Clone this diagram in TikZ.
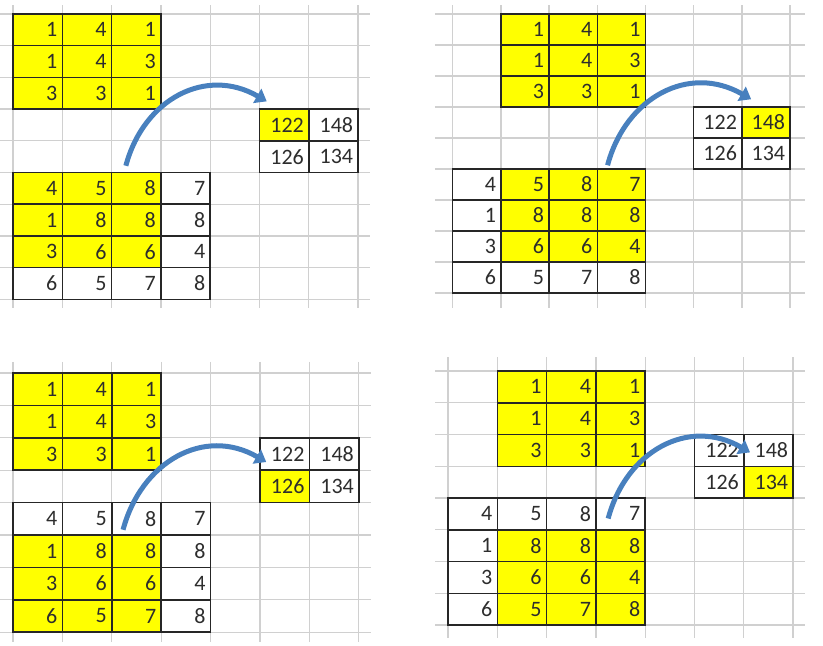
\documentclass[tikz,border=0pt]{standalone}
\usepackage{fontspec}
\setmainfont{Carlito}
\usetikzlibrary{arrows.meta}
\definecolor{hl}{RGB}{255,255,0}
\definecolor{ink}{RGB}{45,45,45}
\definecolor{sheetgray}{RGB}{208,208,208}
\definecolor{flowblue}{RGB}{72,128,190}
\tikzset{
  sheetline/.style={draw=sheetgray, line width=1.3pt},
  cell/.style={draw=black!85, line width=1.5pt, text=ink,
    font=\fontsize{22}{24}\selectfont, inner xsep=5pt, inner ysep=0pt,
    align=right, text width=39.3pt, minimum height=31.7pt},
  flowarrow/.style={draw=flowblue, line width=5pt, looseness=1.15,
    -{Triangle[length=11pt,width=16pt]}}
}
\begin{document}
\begin{tikzpicture}[x=1pt,y=1pt]
  \useasboundingbox (0,0) rectangle (823,-646);
  % top left
  \begin{scope}[shift={(13,-14)}, x=49.3pt, y=31.7pt]
    \foreach \cc in {0,...,7} \draw[sheetline] (\cc,0.28) -- (\cc,-9.28);
    \foreach \rr in {0,...,9} \draw[sheetline] (-0.27,-\rr) -- (7.24,-\rr);
    \foreach \cells [count=\rr from 0] in {{1,4,1},{1,4,3},{3,3,1}}
      \foreach \v [count=\cc from 0] in \cells
        \node[cell, fill=hl] (p1k\rr\cc) at (\cc+0.5,-\rr-0.5) {\v};
    \foreach \cells [count=\rr from 0] in {{4/hl,5/hl,8/hl,7/white},{1/hl,8/hl,8/hl,8/white},{3/hl,6/hl,6/hl,4/white},{6/white,5/white,7/white,8/white}}
      \foreach \v/\f [count=\cc from 0] in \cells
        \node[cell, fill=\f] (p1i\rr\cc) at (\cc+0.5,-\rr-5.5) {\v};
    \node[cell, fill=hl] (p1o00) at (5.5,-3.5) {122};
    \node[cell, fill=white] (p1o01) at (6.5,-3.5) {148};
    \node[cell, fill=white] (p1o10) at (5.5,-4.5) {126};
    \node[cell, fill=white] (p1o11) at (6.5,-4.5) {134};
  \end{scope}
  % top right
  \begin{scope}[shift={(452.7,-14)}, x=48.2pt, y=31pt,
      cell/.append style={text width=38.2pt, minimum height=31pt}]
    \foreach \cc in {0,...,7} \draw[sheetline] (\cc,0.29) -- (\cc,-9.48);
    \foreach \rr in {0,...,9} \draw[sheetline] (-0.37,-\rr) -- (7.31,-\rr);
    \foreach \cells [count=\rr from 0] in {{1,4,1},{1,4,3},{3,3,1}}
      \foreach \v [count=\cc from 0] in \cells
        \node[cell, fill=hl] (p2k\rr\cc) at (\cc+1.5,-\rr-0.5) {\v};
    \foreach \cells [count=\rr from 0] in {{4/white,5/hl,8/hl,7/hl},{1/white,8/hl,8/hl,8/hl},{3/white,6/hl,6/hl,4/hl},{6/white,5/white,7/white,8/white}}
      \foreach \v/\f [count=\cc from 0] in \cells
        \node[cell, fill=\f] (p2i\rr\cc) at (\cc+0.5,-\rr-5.5) {\v};
    \node[cell, fill=white] (p2o00) at (5.5,-3.5) {122};
    \node[cell, fill=hl] (p2o01) at (6.5,-3.5) {148};
    \node[cell, fill=white] (p2o10) at (5.5,-4.5) {126};
    \node[cell, fill=white] (p2o11) at (6.5,-4.5) {134};
  \end{scope}
  % bottom left
  \begin{scope}[shift={(13,-373)}, x=49.4pt, y=32.4pt,
      cell/.append style={text width=39.4pt, minimum height=32.4pt}]
    \foreach \cc in {0,...,7} \draw[sheetline] (\cc,0.34) -- (\cc,-8.3);
    \foreach \rr in {0,...,8} \draw[sheetline] (-0.27,-\rr) -- (7.24,-\rr);
    \foreach \cells [count=\rr from 0] in {{1,4,1},{1,4,3},{3,3,1}}
      \foreach \v [count=\cc from 0] in \cells
        \node[cell, fill=hl] (p3k\rr\cc) at (\cc+0.5,-\rr-0.5) {\v};
    \foreach \cells [count=\rr from 0] in {{4/white,5/white,8/white,7/white},{1/hl,8/hl,8/hl,8/white},{3/hl,6/hl,6/hl,4/white},{6/hl,5/hl,7/hl,8/white}}
      \foreach \v/\f [count=\cc from 0] in \cells
        \node[cell, fill=\f] (p3i\rr\cc) at (\cc+0.5,-\rr-4.5) {\v};
    \node[cell, fill=white] (p3o00) at (5.5,-2.5) {122};
    \node[cell, fill=white] (p3o01) at (6.5,-2.5) {148};
    \node[cell, fill=hl] (p3o10) at (5.5,-3.5) {126};
    \node[cell, fill=white] (p3o11) at (6.5,-3.5) {134};
  \end{scope}
  % bottom right
  \begin{scope}[shift={(448,-371)}, x=49.3pt, y=31.75pt,
      cell/.append style={minimum height=31.75pt}]
    \foreach \cc in {0,...,7} \draw[sheetline] (\cc,0.44) -- (\cc,-8.41);
    \foreach \rr in {0,...,8} \draw[sheetline] (-0.26,-\rr) -- (7.24,-\rr);
    \foreach \cells [count=\rr from 0] in {{1,4,1},{1,4,3},{3,3,1}}
      \foreach \v [count=\cc from 0] in \cells
        \node[cell, fill=hl] (p4k\rr\cc) at (\cc+1.5,-\rr-0.5) {\v};
    \foreach \cells [count=\rr from 0] in {{4/white,5/white,8/white,7/white},{1/white,8/hl,8/hl,8/hl},{3/white,6/hl,6/hl,4/hl},{6/white,5/hl,7/hl,8/hl}}
      \foreach \v/\f [count=\cc from 0] in \cells
        \node[cell, fill=\f] (p4i\rr\cc) at (\cc+0.5,-\rr-4.5) {\v};
    \node[cell, fill=white] (p4o00) at (5.5,-2.5) {122};
    \node[cell, fill=white] (p4o01) at (6.5,-2.5) {148};
    \node[cell, fill=white] (p4o10) at (5.5,-3.5) {126};
    \node[cell, fill=hl] (p4o11) at (6.5,-3.5) {134};
  \end{scope}
  % arrows
  \draw[flowarrow] ([xshift=15pt,yshift=6pt]p1i02.north west) to[out=75,in=150] ([xshift=8pt,yshift=7pt]p1o00.north west);
  \draw[flowarrow] ([xshift=11pt,yshift=3pt]p2i03.north west) to[out=75,in=150] ([xshift=10pt,yshift=7pt]p2o01.north west);
  \draw[flowarrow] ([xshift=12pt,yshift=6pt]p3i02.south west) to[out=75,in=150] ([xshift=7pt,yshift=-8pt]p3o00.west);
  \draw[flowarrow] ([xshift=13pt,yshift=12pt]p4i03.south west) to[out=75,in=150] ([xshift=7pt,yshift=-2pt]p4o01.west);
\end{tikzpicture}
\end{document}
